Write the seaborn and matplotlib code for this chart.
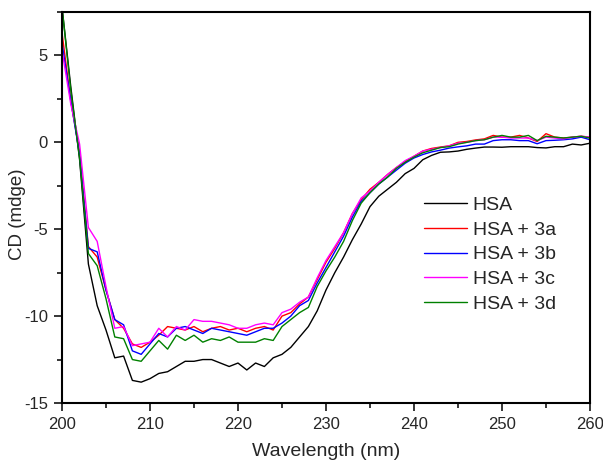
import seaborn as sns
import matplotlib.pyplot as plt
from matplotlib.ticker import MultipleLocator
import pandas as pd

# data
wavelength = list(range(200, 261))

hsa = [7.8, 3.2, -1.0, -7.0, -9.4, -10.8, -12.4, -12.3, -13.7, -13.8,
       -13.6, -13.3, -13.2, -12.9, -12.6, -12.6, -12.5, -12.5, -12.7, -12.9,
       -12.7, -13.1, -12.7, -12.9, -12.4, -12.2, -11.8, -11.2, -10.6, -9.7,
       -8.5, -7.5, -6.6, -5.6, -4.7, -3.7, -3.1, -2.7, -2.3, -1.8,
       -1.5, -1.0, -0.75, -0.57, -0.55, -0.5, -0.4, -0.33, -0.27, -0.27,
       -0.28, -0.25, -0.25, -0.25, -0.3, -0.32, -0.25, -0.25, -0.1, -0.15,
       -0.05]
hsa_3a = [6.3, 2.4, -0.6, -6.0, -6.6, -8.5, -10.2, -10.7, -11.6, -11.8,
          -11.5, -11.1, -10.6, -10.7, -10.8, -10.6, -10.9, -10.7, -10.6, -10.8,
          -10.7, -10.9, -10.7, -10.6, -10.8, -10.0, -9.8, -9.3, -8.9, -7.9,
          -6.9, -6.1, -5.2, -4.1, -3.3, -2.7, -2.3, -1.85, -1.45, -1.1,
          -0.8, -0.5, -0.35, -0.27, -0.2, 0.0, 0.05, 0.14, 0.2, 0.4,
          0.3, 0.3, 0.4, 0.25, 0.05, 0.5, 0.3, 0.25, 0.3, 0.35,
          0.3]
hsa_3b = [5.7, 2.4, -0.7, -6.1, -6.3, -8.5, -10.2, -10.5, -12.0, -12.2,
          -11.6, -11.0, -11.2, -10.7, -10.6, -10.8, -11.0, -10.7, -10.8, -10.9,
          -11.0, -11.1, -10.9, -10.7, -10.7, -10.4, -10.0, -9.4, -9.1, -8.1,
          -7.2, -6.3, -5.4, -4.3, -3.4, -2.9, -2.4, -2.0, -1.6, -1.2,
          -0.9, -0.7, -0.55, -0.45, -0.33, -0.26, -0.2, -0.1, -0.1, 0.1,
          0.15, 0.15, 0.1, 0.1, -0.08, 0.1, 0.12, 0.15, 0.2, 0.3,
          0.15]
hsa_3c = [5.3, 2.2, -0.1, -4.9, -5.7, -8.3, -10.7, -10.6, -11.7, -11.6,
          -11.5, -10.7, -11.2, -10.6, -10.8, -10.2, -10.3, -10.3, -10.4, -10.5,
          -10.7, -10.7, -10.5, -10.4, -10.5, -9.8, -9.6, -9.2, -8.9, -7.8,
          -6.8, -6.0, -5.2, -4.1, -3.2, -2.8, -2.3, -1.85, -1.45, -1.05,
          -0.8, -0.5, -0.4, -0.3, -0.2, -0.05, 0.0, 0.1, 0.15, 0.3,
          0.3, 0.25, 0.25, 0.25, 0.1, 0.3, 0.25, 0.2, 0.3, 0.35,
          0.3]
hsa_3d = [7.8, 3.0, -0.9, -6.4, -7.1, -9.0, -11.2, -11.3, -12.5, -12.6,
          -12.0, -11.4, -11.9, -11.1, -11.4, -11.1, -11.5, -11.3, -11.4, -11.2,
          -11.5, -11.5, -11.5, -11.3, -11.4, -10.6, -10.2, -9.8, -9.5, -8.3,
          -7.4, -6.6, -5.7, -4.5, -3.5, -2.9, -2.4, -2.0, -1.5, -1.15,
          -0.85, -0.6, -0.45, -0.3, -0.25, -0.1, 0.0, 0.1, 0.15, 0.3,
          0.4, 0.3, 0.3, 0.4, 0.1, 0.35, 0.3, 0.25, 0.3, 0.35,
          0.25]

labels = ["HSA", "HSA + 3a", "HSA + 3b", "HSA + 3c", "HSA + 3d"]
series = [hsa, hsa_3a, hsa_3b, hsa_3c, hsa_3d]
colors = ["black", "#ff0000", "#0000ff", "#ff00ff", "#008000"]

df = pd.concat([pd.DataFrame({"wl": wavelength, "cd": s, "sample": lab})
                for lab, s in zip(labels, series)])

sns.set_style("ticks")
plt.rcParams['font.family'] = ['Liberation Sans', 'DejaVu Sans']
plt.rcParams['axes.unicode_minus'] = False

fig = plt.figure(figsize=(6.03, 4.63), dpi=100)
ax = fig.add_axes([0.1028, 0.1296, 0.8756, 0.8444])

sns.lineplot(data=df, x="wl", y="cd", hue="sample", hue_order=labels,
             palette=colors, linewidth=1.0, ax=ax, legend=False)

ax.set_xlim(200, 260)
ax.set_ylim(-15, 7.5)
ax.xaxis.set_major_locator(MultipleLocator(10))
ax.xaxis.set_minor_locator(MultipleLocator(5))
ax.yaxis.set_major_locator(MultipleLocator(5))
ax.yaxis.set_minor_locator(MultipleLocator(2.5))
ax.tick_params(which="major", direction="out", length=6, width=1.3,
               labelsize=12, pad=4, top=False, right=False)
ax.tick_params(which="minor", direction="out", length=3.5, width=1.3,
               top=False, right=False)
for sp in ax.spines.values():
    sp.set_linewidth(1.5)
    sp.set_color("black")

ax.set_xlabel("Wavelength (nm)", fontsize=14)
ax.set_ylabel("CD (mdge)", fontsize=13.5)
ax.xaxis.set_label_coords(0.5, -0.103)
ax.yaxis.set_label_coords(-0.068, 0.483)

handles = [plt.Line2D([], [], color=c, lw=1.0) for c in colors]
ax.legend(handles, labels, loc="upper left", bbox_to_anchor=(0.686, 0.528),
          frameon=False, fontsize=14, handlelength=2.2, handletextpad=0.3,
          labelspacing=0.36, borderpad=0, borderaxespad=0)

fig.savefig("out.png", dpi=100)
